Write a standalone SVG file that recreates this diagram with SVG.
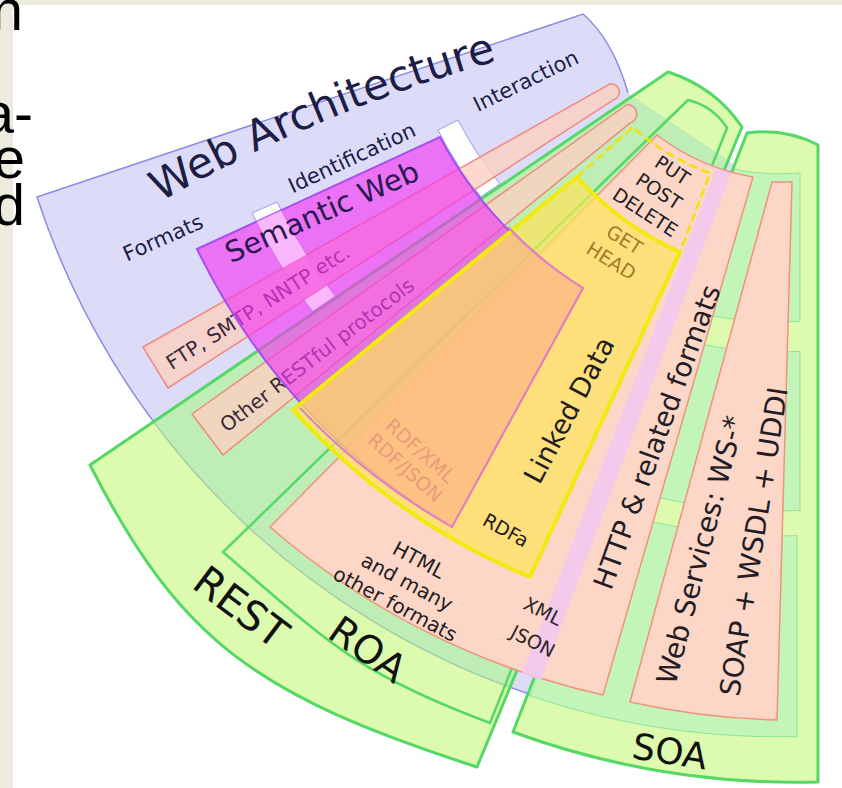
<svg xmlns="http://www.w3.org/2000/svg" width="842" height="788" viewBox="0 0 842 788">
<defs>
<style>
.t{font-family:"DejaVu Sans","Liberation Sans",sans-serif}
.frag{font-family:"Liberation Sans",Arial,sans-serif;font-size:57px;fill:#000}
.gfill{fill:#bcf860;fill-opacity:0.5}
.gline{fill:none;stroke:#55d866;stroke-width:3;stroke-linejoin:round}
.salmon{fill:#fcd6c6;stroke:#f0937a;stroke-width:1.5;stroke-linejoin:round}
.band{fill:#fdcfc0;fill-opacity:0.8;stroke:#ee8a80;stroke-width:1.5;stroke-linejoin:round}
.strip{fill:#fff;stroke:#9a9ae8;stroke-width:1}
.panel{fill:#a9efc4;fill-opacity:0.5;stroke:#8fe39a;stroke-width:1}
.hl{fill:#fff;fill-opacity:0.45}
.navy{fill:#1d1d45}
.dk{fill:#221c24}
</style>
<clipPath id="soaClip"><path d="M 747,133 Q 785,128 818,145 L 818,782 A 824 824 0 0 1 513,732 Z"/></clipPath>
<clipPath id="restClip"><path d="M 90,465 L 668,72 Q 715,87 742,127 L 477,767 C 258,696 181,643 90,465 Z"/></clipPath>
<path id="waArc" d="M 160,202 A 1500 1500 0 0 1 530,52"/>
</defs>

<g id="background">
<rect width="842" height="788" fill="#fff"/>
<rect width="842" height="5" fill="#edeade"/>
<rect width="13" height="788" fill="#edeade"/>
<text class="frag" x="23" y="30" text-anchor="end">n</text>
<text class="frag" x="33" y="133" text-anchor="end">a-</text>
<text class="frag" x="25" y="178" text-anchor="end">e</text>
<text class="frag" x="25" y="225" text-anchor="end">d</text>
</g>

<g id="web-architecture">
<path d="M 37,197 L 583,14 Q 613,40 628,93 L 735,165 L 532,695 A 781 781 0 0 1 37,197 Z" fill="#dcdcf9"/>
<path d="M 532,695 A 781 781 0 0 1 37,197 L 583,14 Q 613,40 628,93" fill="none" stroke="#8b8be6" stroke-width="1.5"/>
<path class="strip" d="M 252,213 A 587 587 0 0 0 312.7,311.3 L 335.1,296.1 A 560 560 0 0 1 277,202 Z"/>
<path class="strip" d="M 438,130 A 384 384 0 0 0 480.9,196.8 L 499.9,183.8 A 361 361 0 0 1 458,120 Z"/>
</g>

<g id="rest">
<path class="gfill" d="M 90,465 L 668,72 Q 715,87 742,127 L 477,767 C 258,696 181,643 90,465 Z"/>
<path d="M 37,197 L 583,14 Q 613,40 628,93 L 735,165 L 532,695 A 781 781 0 0 1 37,197 Z" fill="#aaf5c4" fill-opacity="0.4" clip-path="url(#restClip)"/>
<path class="gline" d="M 90,465 L 668,72 Q 715,87 742,127 L 477,767 C 258,696 181,643 90,465 Z"/>
</g>

<g id="roa">
<path d="M 223,552 L 688,100 Q 713,106 727,128 L 490,723 C 356,673 329,643 223,552 Z" fill="none" stroke="#55d866" stroke-width="2.5" stroke-linejoin="round"/>
</g>

<g id="soa">
<path class="gfill" d="M 747,133 Q 785,128 818,145 L 818,782 A 824 824 0 0 1 513,732 Z"/>
<g clip-path="url(#soaClip)">
<path class="panel" d="M 800,173.1 L 800,321.5 A 366 366 0 0 1 642.9,295.4 L 698.3,158.1 A 218 218 0 0 0 800,173.1 Z"/>
<path class="panel" d="M 800,351.5 L 800,510.6 A 555 555 0 0 1 572.1,470.6 L 631.7,323.2 A 396 396 0 0 0 800,351.5 Z"/>
<path class="panel" d="M 797,535.7 L 797,736.7 A 781 781 0 0 1 487.4,680.1 L 562.7,493.8 A 580 580 0 0 0 797,535.7 Z"/>
</g>
<path class="gline" d="M 747,133 Q 785,128 818,145 L 818,782 A 824 824 0 0 1 513,732 Z"/>
</g>

<g id="protocol-bands">
<path class="band" d="M 143,347 L 610,83.8 A 8.2 8.2 0 0 1 614,99.6 L 168,388 Z"/>
<path class="band" d="M 192,414 L 627,104.5 A 9.5 9.5 0 0 1 630,123.1 L 223,455 Z"/>
<text class="t" font-size="20" fill="#3a2838" text-anchor="middle" transform="translate(258,307) rotate(-32.5)" y="7">FTP, SMTP, NNTP etc.</text>
<text class="t" font-size="20" fill="#3a2838" text-anchor="middle" transform="translate(317,355) rotate(-37.5)" y="7">Other RESTful protocols</text>
</g>

<g id="formats-http">
<path class="salmon" d="M 657,135 A 220 220 0 0 0 753,177 L 603,695 A 763 763 0 0 1 270,527 Z"/>
<path d="M 716,169 L 731,173 L 541,680 L 522,674 Z" fill="#f2c8f0" fill-opacity="0.9"/>
</g>

<g id="web-services">
<path class="salmon" d="M 772,182 L 792,182 L 777,720 A 762 762 0 0 1 630,702 Z"/>
</g>

<g id="semantic-web">
<path d="M 197,249 L 440,137 A 385 385 0 0 0 583,288 L 452,527 A 656 656 0 0 1 197,249 Z" fill="#f238f2" fill-opacity="0.65" stroke="#a64ef0" stroke-width="2"/>
<path class="hl" d="M 256.5,221.6 A 587 587 0 0 0 282.9,268.2 L 306.5,255 A 560 560 0 0 1 281,210.3 Z"/>
<path class="hl" d="M 304.3,300 A 587 587 0 0 0 312.7,311.3 L 335.1,296.1 A 560 560 0 0 1 327,285.2 Z"/>
</g>

<g id="linked-data">
<path d="M 577,177 L 293,410 A 667 667 0 0 0 530,577 L 680,252 A 306 306 0 0 1 577,177 Z" fill="#ffe45a" fill-opacity="0.7" stroke="#f2ea0f" stroke-width="4" stroke-linejoin="round"/>
<path d="M 577,177 L 633,127 A 227 227 0 0 0 710,173 L 681,250" fill="none" stroke="#f2e20a" stroke-width="2.5" stroke-dasharray="9 4"/>
<path d="M 508,227 A 385 385 0 0 0 583,288 L 452,527 A 656 656 0 0 1 300,408" fill="none" stroke="#e47ac8" stroke-width="2"/>
</g>

<g id="connectors"></g>

<g id="labels" class="t">
<text font-size="42.5" class="navy"><textPath href="#waArc">Web Architecture</textPath></text>
<text font-size="21" class="navy" text-anchor="middle" transform="translate(163,238) rotate(-24)" y="7">Formats</text>
<text font-size="21" class="navy" text-anchor="middle" transform="translate(352,158) rotate(-25)" y="7">Identification</text>
<text font-size="21" class="navy" text-anchor="middle" transform="translate(526,81) rotate(-26)" y="7">Interaction</text>
<text font-size="29" fill="#2a1850" text-anchor="middle" transform="translate(322,212) rotate(-24)" y="10">Semantic Web</text>
<g transform="translate(413,459) rotate(42)" font-size="19" fill="#e99a7a" text-anchor="middle">
<text y="-4.3">RDF/XML</text>
<text y="18.3">RDF/JSON</text>
</g>
<text font-size="27" class="dk" text-anchor="middle" transform="translate(569,410) rotate(-62)" y="9.5">Linked Data</text>
<text font-size="19" class="dk" text-anchor="middle" transform="translate(506,530) rotate(29)" y="7">RDFa</text>
<g transform="translate(618,250) rotate(32)" font-size="19" fill="#a07c2c" text-anchor="middle">
<text y="-5.5">GET</text>
<text y="19.5">HEAD</text>
</g>
<g transform="translate(659,191) rotate(33)" font-size="19" class="dk" text-anchor="middle">
<text y="-18">PUT</text>
<text y="7">POST</text>
<text y="32">DELETE</text>
</g>
<text font-size="27.5" class="dk" text-anchor="middle" transform="translate(657,437) rotate(-70)" y="9.5">HTTP &amp; related formats</text>
<text font-size="28" class="dk" text-anchor="middle" transform="translate(700,550) rotate(-75.5)" y="10">Web Services: WS-*</text>
<text font-size="28" class="dk" text-anchor="middle" transform="translate(753.5,541.5) rotate(-81)" y="10">SOAP + WSDL + UDDI</text>
<g transform="translate(407,582) rotate(28)" font-size="20" class="dk" text-anchor="middle">
<text y="-18">HTML</text>
<text y="7">and many</text>
<text y="32">other formats</text>
</g>
<text font-size="19" fill="#2c2626" text-anchor="middle" transform="translate(543,611) rotate(27)" y="7">XML</text>
<text font-size="19" fill="#2c2626" text-anchor="middle" transform="translate(533,641) rotate(27)" y="7">JSON</text>
<text font-size="41" fill="#111" text-anchor="middle" transform="translate(241,607) rotate(37)" y="14.5">REST</text>
<text font-size="39" fill="#111" text-anchor="middle" transform="translate(368,649) rotate(35)" y="14">ROA</text>
<text font-size="36" fill="#111" text-anchor="middle" transform="translate(670,751) rotate(9)" y="13">SOA</text>
</g>
</svg>
